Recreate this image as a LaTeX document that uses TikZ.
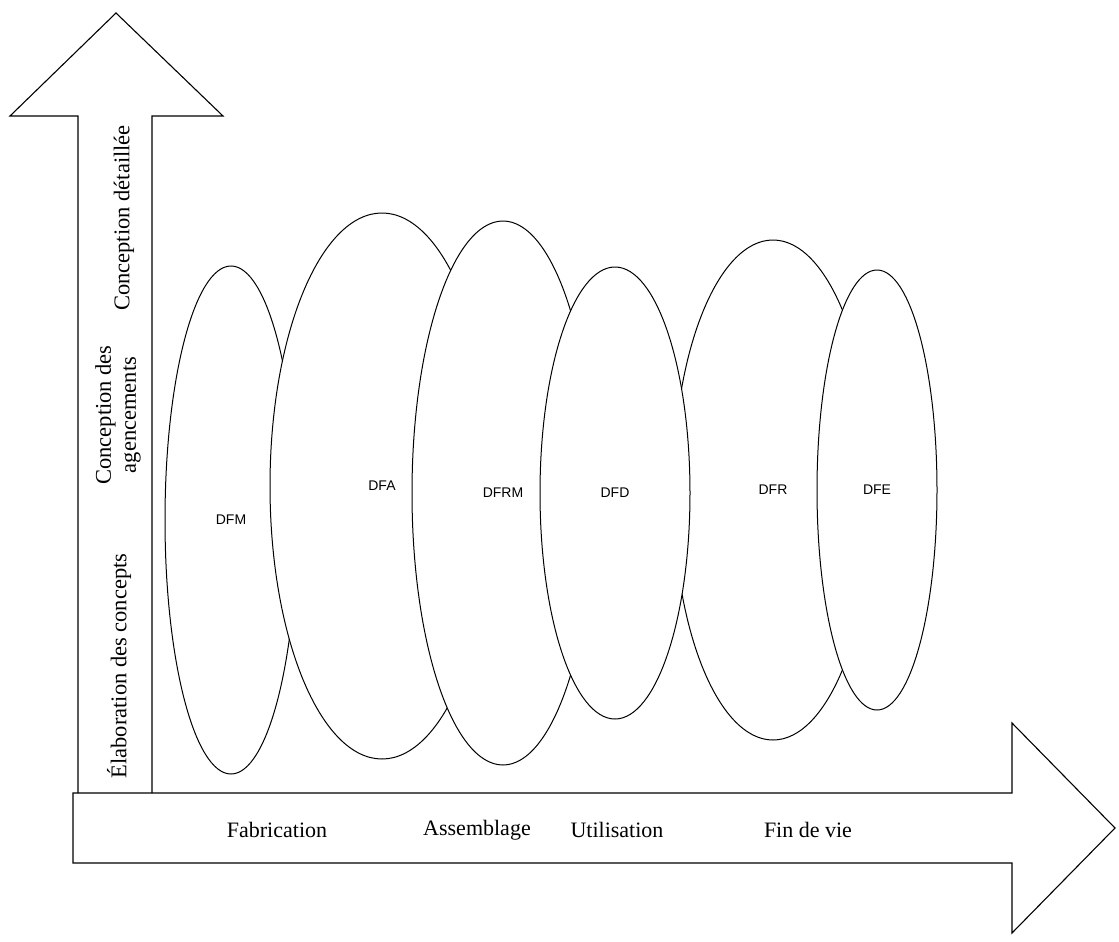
\documentclass[tikz,border=0pt]{standalone}
\usepackage{fontspec}
\setmainfont{Liberation Serif}
\newfontfamily\labelsans{Liberation Sans}
\usetikzlibrary{shapes.geometric}
\begin{document}
\begin{tikzpicture}[x=1pt,y=-1pt,
  outline/.style={draw=black, line width=1.1pt, line join=miter},
  zone/.style={ellipse, draw=black, fill=white, line width=1pt, inner sep=0pt,
    font=\labelsans\fontsize{14}{16}\selectfont},
  phase/.style={font=\fontsize{22}{26}\selectfont, inner sep=0pt},
  stage/.style={font=\fontsize{22.5}{25}\selectfont, rotate=90, align=center, inner sep=0pt}]
\useasboundingbox (0,0) rectangle (1119,942);

% vertical block arrow (design stages)
\draw[outline] (78,793) -- (78,116) -- (10,116) -- (116,13) -- (223,116) -- (152,116) -- (152,793);
% horizontal block arrow (life-cycle phases)
\draw[outline] (73,793) -- (1012,793) -- (1012,723) -- (1115,828) -- (1012,933)
  -- (1012,863) -- (73,863) -- cycle;

% design-for-X domains, later ones overlapping earlier ones
\node[zone, minimum width=132pt, minimum height=508pt] (dfm)  at (231,520) {DFM};
\node[zone, minimum width=224pt, minimum height=546pt] (dfa)  at (382,486) {DFA};
\node[zone, minimum width=182pt, minimum height=544pt] (dfrm) at (503,493) {DFRM};
\node[zone, minimum width=200pt, minimum height=500pt] (dfr)  at (773,490) {DFR};
\node[zone, minimum width=150pt, minimum height=452pt] (dfd)  at (615,493) {DFD};
\node[zone, minimum width=120pt, minimum height=440pt] (dfe)  at (877,490) {DFE};

% life-cycle phases
\node[phase] (fab) at (277,830) {Fabrication};
\node[phase] (asm) at (477,830) {Assemblage};
\node[phase] (use) at (617,830) {Utilisation};
\node[phase] (eol) at (808,830) {Fin de vie};

% design stages
\node[stage] (det) at (124,218) {Conception détaillée};
\node[stage] (agc) at (118,415) {Conception des\\agencements};
\node[stage] (elc) at (119,666) {Élaboration des concepts};
\end{tikzpicture}
\end{document}
